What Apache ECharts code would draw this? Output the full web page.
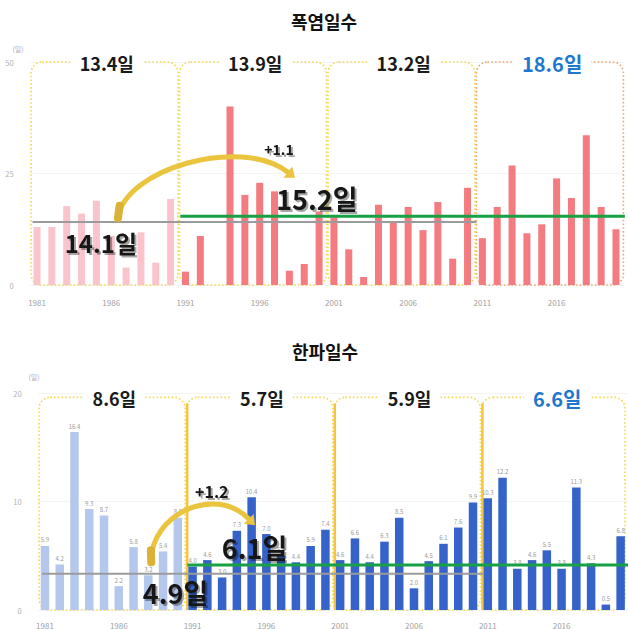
<!DOCTYPE html>
<html><head><meta charset="utf-8">
<script src="https://cdn.jsdelivr.net/npm/echarts@6/dist/echarts.min.js"></script>
<style>html,body{margin:0;padding:0;background:#fff}#c{width:628px;height:629px}</style>
</head><body><div id="c"></div>
<script>
// ---------- data ----------
const years = ['1981','1982','1983','1984','1985','1986','1987','1988','1989','1990',
  '1991','1992','1993','1994','1995','1996','1997','1998','1999','2000',
  '2001','2002','2003','2004','2005','2006','2007','2008','2009','2010',
  '2011','2012','2013','2014','2015','2016','2017','2018','2019','2020'];
const heatDays = [13.0, 13.0, 17.7, 16.0, 18.9, 11.0, 3.9, 11.8, 5.0, 19.3,
  3.0, 11.0, 0, 40.0, 20.2, 22.9, 21.0, 3.2, 4.7, 16.5,
  15.2, 8.0, 1.8, 18.0, 13.9, 17.5, 12.3, 18.6, 5.9, 21.8,
  10.5, 17.5, 26.8, 11.6, 13.6, 23.9, 19.5, 33.6, 17.5, 12.5];
const coldDays = [5.9, 4.2, 16.4, 9.3, 8.7, 2.2, 5.8, 3.2, 5.4, 8.5,
  4.0, 4.6, 3.0, 7.3, 10.4, 7.0, 5.0, 4.4, 5.9, 7.4,
  4.6, 6.6, 4.4, 6.3, 8.5, 2.0, 4.5, 6.1, 7.6, 9.9,
  10.3, 12.2, 3.8, 4.6, 5.5, 3.8, 11.3, 4.3, 0.5, 6.8];
const heatTicks = [0, 25, 50];
const coldTicks = [0, 10, 20];
const heatPeriodLabels = ['13.4일', '13.9일', '13.2일', '18.6일'];
const coldPeriodLabels = ['8.6일', '5.7일', '5.9일', '6.6일'];
const heatNormalLabels = ['14.1일', '15.2일'];
const coldNormalLabels = ['4.9일', '6.1일'];
const heatNormalLevels = [14.1, 15.4];   // 1981-2010 / 1991-2020 line heights
const coldNormalLevels = [3.35, 4.15];
const heatChange = '+1.1';
const coldChange = '+1.2';
const titles = ['폭염일수', '한파일수'];

// ---------- styles ----------
const FONT = '"Noto Sans CJK KR", "Noto Sans", sans-serif';
const heatColors = ['#f9c4cc', '#f47b80'];
const coldColors = ['#b3c8ec', '#3563c9'];

const chart = echarts.init(document.getElementById('c'), null, {renderer: 'svg'});

function xAxisCfg(g, margin) {
  return {type: 'category', gridIndex: g, data: years,
    axisLine: {show: false}, axisTick: {show: false},
    axisLabel: {interval: 4, fontSize: 8, color: '#a0a0a0', margin: margin, fontFamily: FONT}};
}
function yAxisCfg(g, ticks) {
  return {type: 'value', gridIndex: g, min: ticks[0], max: ticks[ticks.length - 1],
    interval: ticks[1] - ticks[0],
    name: '(일)', nameGap: g === 0 ? 10 : 13,
    nameTextStyle: {fontSize: 7, color: '#b0b0b0', align: 'right', padding: [0, g === 0 ? 6 : -2, 0, 0], fontFamily: FONT},
    axisLine: {show: false}, axisTick: {show: false},
    axisLabel: {fontSize: 7.5, color: '#b0b0b0', margin: 16, fontFamily: FONT},
    splitLine: {lineStyle: {color: '#f3f3f3'}}};
}

chart.setOption({
  animation: false,
  grid: [
    {left: 29.6, top: 62, width: 593.8, height: 223},
    {left: 37.6, top: 393, width: 593, height: 221}
  ],
  xAxis: [xAxisCfg(0, 13), xAxisCfg(1, 11)],
  yAxis: [yAxisCfg(0, heatTicks), yAxisCfg(1, coldTicks)],
  series: [
    {type: 'bar', xAxisIndex: 0, yAxisIndex: 0, barWidth: 7, silent: true,
      data: heatDays.map((v, i) => ({value: v, itemStyle: {color: i < 10 ? heatColors[0] : heatColors[1]}}))},
    {type: 'bar', xAxisIndex: 1, yAxisIndex: 1, barWidth: 8.5, silent: true,
      label: {show: true, position: 'top', distance: 3, fontSize: 6, color: '#9a9a9a', fontFamily: FONT,
        formatter: p => p.value.toFixed(1)},
      data: coldDays.map((v, i) => ({value: v, itemStyle: {color: i < 10 ? coldColors[0] : coldColors[1]}}))}
  ]
});

// ---------- overlay built from the axes' own scales ----------
function px(g, idx, val) {
  const a = chart.convertToPixel({xAxisIndex: g, yAxisIndex: g}, [0, val]);
  const b = chart.convertToPixel({xAxisIndex: g, yAxisIndex: g}, [1, val]);
  return [a[0] + (b[0] - a[0]) * idx, a[1]];
}
const els = [];
const W = 628;

function boxes(g, topVal, labels, colors, solidSep) {
  const yT = px(g, 0, topVal)[1], yB = px(g, 0, 0)[1];
  for (let k = 0; k < 4; k++) {
    const x0 = px(g, 10 * k - 0.4, 0)[0];
    const x1 = Math.min(px(g, 10 * k + 9.5, 0)[0], 625);
    els.push({type: 'rect', z: 1, shape: {x: x0, y: yT, width: x1 - x0, height: yB - yT, r: 11},
      style: {fill: null, stroke: colors[k], lineWidth: 1.6, lineDash: [1.6, 2.2]}});
  }
  if (solidSep) {
    for (let k = 1; k < 4; k++) {
      const x = px(g, 10 * k - 0.5, 0)[0] + 2;
      els.push({type: 'line', z: 2, shape: {x1: x, y1: yT + 6, x2: x, y2: yB}, style: {stroke: '#f6c445', lineWidth: 2.5}});
    }
  }
  for (let k = 0; k < 4; k++) {
    const cx = px(g, 10 * k + 4.7, 0)[0];
    els.push({type: 'text', z: 5, x: cx, y: yT + 1,
      style: {text: labels[k], font: 'bold ' + (k === 3 ? 20 : 18) + 'px ' + FONT, fill: k === 3 ? '#1f78d0' : '#1a1a1a',
        align: 'center', verticalAlign: 'middle', backgroundColor: '#fff', padding: [2, 9, 2, 9]}});
  }
}
boxes(0, 50, heatPeriodLabels, ['#f3d94e', '#f3d94e', '#f3d94e', '#f2a56c'], false);
boxes(1, 19.6, coldPeriodLabels, ['#f3d94e', '#f3d94e', '#f3d94e', '#f3d94e'], true);

function hline(g, i0, i1, val, color, lw, clampRight) {
  const a = px(g, i0, val), b = px(g, i1, val);
  els.push({type: 'line', z: 6, shape: {x1: a[0], y1: a[1], x2: clampRight ? W : b[0], y2: b[1]},
    style: {stroke: color, lineWidth: lw}});
}
hline(0, -0.3, 29.6, heatNormalLevels[0], '#9b9b9b', 2);
hline(0, 9.65, 39.6, heatNormalLevels[1], '#17a044', 3);
hline(1, -0.2, 29.7, coldNormalLevels[0], '#9b9b9b', 2);
hline(1, 9.65, 39.5, coldNormalLevels[1], '#17a044', 3, true);

function arrow(g, pts) {
  const P = pts.map(p => px(g, p[0], p[1]));
  els.push({type: 'bezierCurve', z: 7,
    shape: {x1: P[0][0], y1: P[0][1], cpx1: P[1][0], cpy1: P[1][1], cpx2: P[2][0], cpy2: P[2][1], x2: P[3][0], y2: P[3][1]},
    style: {fill: null, stroke: '#e9c43c', lineWidth: 5, lineCap: 'round'}});
  els.push({type: 'line', z: 7, shape: {x1: P[0][0], y1: P[0][1], x2: P[0][0] + (P[1][0] - P[0][0]) * 0.25, y2: P[0][1] + (P[1][1] - P[0][1]) * 0.25},
    style: {stroke: '#d9b236', lineWidth: 8, lineCap: 'round'}});
  const dx = P[3][0] - P[2][0], dy = P[3][1] - P[2][1], L = Math.hypot(dx, dy);
  const ux = dx / L, uy = dy / L, nx = -uy, ny = ux;
  const tip = [P[3][0] + ux * 9, P[3][1] + uy * 9];
  els.push({type: 'polygon', z: 7, shape: {points: [tip,
      [P[3][0] + nx * 7, P[3][1] + ny * 7], [P[3][0] - nx * 7, P[3][1] - ny * 7]]},
    style: {fill: '#e9c43c'}});
}
arrow(0, [[5.45, 15.0], [5.9, 26.0], [13.7, 33.5], [16.9, 25.3]]);
arrow(1, [[7.2, 4.4], [7.1, 8.8], [11.5, 11.6], [13.8, 8.4]]);

function label(g, idx, val, text, size) {
  const p = px(g, idx, val);
  els.push({type: 'text', z: 8, x: p[0], y: p[1],
    style: {text: text, font: 'bold ' + size + 'px ' + FONT, fill: '#151515', align: 'center', verticalAlign: 'middle',
      textShadowColor: 'rgba(0,0,0,0.35)', textShadowBlur: 1, textShadowOffsetX: 2, textShadowOffsetY: 2}});
}
label(0, 16.3, 30.5, heatChange, 14);
label(0, 4.3, 9.6, heatNormalLabels[0], 24);
label(0, 18.85, 19.5, heatNormalLabels[1], 27);
label(1, 11.3, 10.95, coldChange, 16);
label(1, 14.2, 5.8, coldNormalLabels[1], 27);
label(1, 8.85, 1.6, coldNormalLabels[0], 27);

// titles
els.push({type: 'text', z: 8, x: 324, y: 21, style: {text: titles[0], font: 'bold 18px ' + FONT, fill: '#111', align: 'center', verticalAlign: 'middle'}});
els.push({type: 'text', z: 8, x: 325, y: 351, style: {text: titles[1], font: 'bold 18px ' + FONT, fill: '#111', align: 'center', verticalAlign: 'middle'}});

chart.setOption({graphic: {elements: els}});
</script></body></html>
